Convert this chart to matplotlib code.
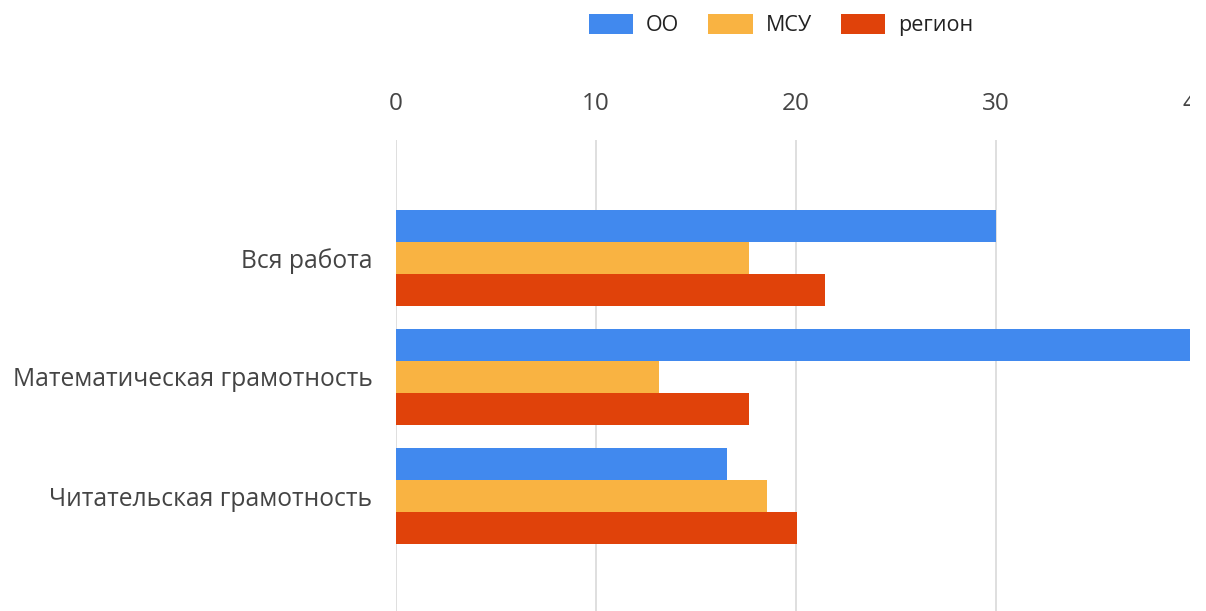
import matplotlib
matplotlib.use("Agg")
import matplotlib.pyplot as plt
from matplotlib.patches import Rectangle
import numpy as np

plt.rcParams['font.family'] = ['Open Sans', 'DejaVu Sans']

categories = ["Вся работа", "Математическая грамотность", "Читательская грамотность"]
series_names = ["ОО", "МСУ", "регион"]
oo = [30.0, 40.0, 16.55]
msu = [17.65, 13.15, 18.55]
region = [21.45, 17.65, 20.05]
xticks = [0, 10, 20, 30, 40]
colors = ["#4189ee", "#f9b342", "#e0420a"]

W, H = 1206, 611
fig = plt.figure(figsize=(W / 100, H / 100), dpi=100)

left_px, right_px = 396, 1196
top_px, bot_px = 140, 611
ax = fig.add_axes([left_px / W, 1 - bot_px / H, (right_px - left_px) / W, (bot_px - top_px) / H])

y = np.arange(len(categories))
bh = 32 / 119.3
for i, (vals, c, name) in enumerate(zip([oo, msu, region], colors, series_names)):
    ax.barh(y + (i - 1) * bh, vals, height=bh, color=c, label=name, zorder=3)

ax.set_xlim(0, 40)
ax.set_ylim(2 + 115 / 119.3, -117.7 / 119.3)
ax.set_xticks(xticks)
ax.xaxis.tick_top()
ax.tick_params(axis='x', length=0, pad=17, labelsize=17.5, labelcolor='#444444')
ax.tick_params(axis='y', length=0, pad=17, labelsize=17.7, labelcolor='#444444')
ax.set_yticks(y)
ax.set_yticklabels(categories)
ax.grid(axis='x', color='#d9d9d9', linewidth=1.2, zorder=0)
for s in ax.spines.values():
    s.set_visible(False)

leg = fig.legend(loc='center', bbox_to_anchor=(781 / W, 1 - 25 / H), ncol=3, frameon=False,
                 fontsize=15.5, handlelength=2.05, handleheight=1.1, columnspacing=1.35,
                 handletextpad=0.6, labelcolor='#222222')

# image cropped at right edge (as in the reference)
fig.add_artist(Rectangle((1190 / W, 0), 16 / W, 1, transform=fig.transFigure,
                         facecolor='white', edgecolor='none', zorder=10))

fig.savefig("out.png", dpi=100, facecolor='white')
